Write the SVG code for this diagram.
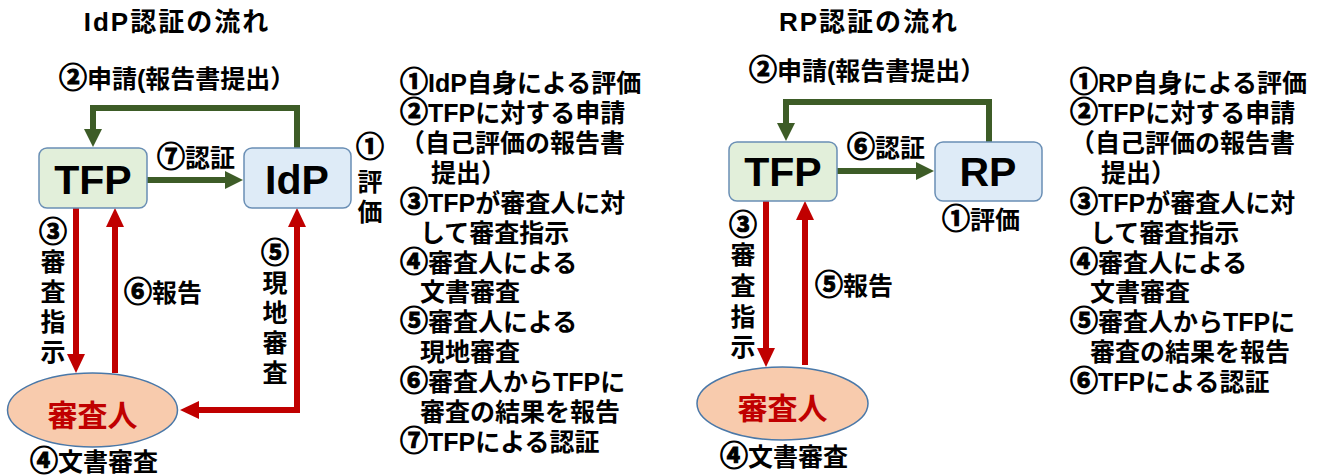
<svg xmlns="http://www.w3.org/2000/svg" width="1317" height="476" viewBox="0 0 1317 476">
<style>
text{font-family:"Liberation Sans","Noto Sans CJK JP",sans-serif;font-weight:bold;fill:#000;}
.t{font-size:26px;letter-spacing:2px;}
.l{font-size:25px;}
.s{font-size:25px;}
.v{font-size:25px;text-anchor:middle;}
.c{font-size:28px;stroke:#000;stroke-width:1.1px;}
.big{font-size:41px;text-anchor:middle;}
.rev{font-size:30px;fill:#c00000;text-anchor:middle;}
.tfp{fill:#e2efda;stroke:#6a8fb5;stroke-width:1.5;}
.idp{fill:#deebf7;stroke:#6a8fb5;stroke-width:1.5;}
.ell{fill:#f8cbad;stroke:#4a78a8;stroke-width:1.5;}
.g{fill:none;stroke:#3d5c27;stroke-width:6;}
.r{fill:none;stroke:#c00000;stroke-width:6;}
</style>
<defs>
<marker id="ag" markerUnits="userSpaceOnUse" viewBox="0 0 18 18" refX="0" refY="9" markerWidth="18" markerHeight="18" orient="auto-start-reverse"><path d="M0,0 L18,9 L0,18 Z" fill="#3d5c27"/></marker>
<marker id="ar" markerUnits="userSpaceOnUse" viewBox="0 0 19 18" refX="0" refY="9" markerWidth="19" markerHeight="18" orient="auto-start-reverse"><path d="M0,0 L19,9 L0,18 Z" fill="#c00000"/></marker>
</defs>

<!-- Left diagram -->
<text class="t" x="177" y="31" text-anchor="middle">IdP認証の流れ</text>
<text class="s" x="59" y="88"><tspan class="c">②</tspan>申請(報告書提出）</text>

<g id="connectors-left">
<path class="g" d="M297,148 V108 H93 V129" marker-end="url(#ag)"/>
<path class="g" d="M147,180 H225" marker-end="url(#ag)"/>
<path class="r" d="M76,208 V354" marker-end="url(#ar)"/>
<path class="r" d="M115,373 V227" marker-end="url(#ar)"/>
<path class="r" d="M199,410 H297 V227" marker-start="url(#ar)" marker-end="url(#ar)"/>
</g>

<g id="tfp-left">
<rect class="tfp" x="39" y="148" width="108" height="60" rx="8"/>
<text class="big" x="93" y="194">TFP</text>
</g>
<g id="idp">
<rect class="idp" x="244" y="148" width="107" height="60" rx="8"/>
<text class="big" x="297" y="194">IdP</text>
</g>
<g id="reviewer-left">
<ellipse class="ell" cx="92.5" cy="410" rx="85" ry="37"/>
<text class="rev" x="92.5" y="426">審査人</text>
</g>

<text class="l" x="157" y="167"><tspan class="c">⑦</tspan>認証</text>
<text class="v c" x="370" y="157">①</text>
<text class="v" x="370" y="191">評</text>
<text class="v" x="370" y="221">価</text>
<text class="l" x="30" y="471"><tspan class="c">④</tspan>文書審査</text>
<text class="v c" x="53" y="242">③</text>
<text class="v" x="53" y="271">審</text>
<text class="v" x="53" y="301">査</text>
<text class="v" x="53" y="331">指</text>
<text class="v" x="53" y="361">示</text>
<text class="l" x="124" y="302"><tspan class="c">⑥</tspan>報告</text>
<text class="v c" x="275" y="263">⑤</text>
<text class="v" x="275" y="292">現</text>
<text class="v" x="275" y="322">地</text>
<text class="v" x="275" y="352">審</text>
<text class="v" x="275" y="382">査</text>

<g id="list-left">
<text class="l" x="400" y="92"><tspan class="c">①</tspan>IdP自身による評価</text>
<text class="l" x="400" y="122"><tspan class="c">②</tspan>TFPに対する申請</text>
<text class="l" x="400" y="152">（自己評価の報告書</text>
<text class="l" x="431" y="182">提出）</text>
<text class="l" x="400" y="212"><tspan class="c">③</tspan>TFPが審査人に対</text>
<text class="l" x="420" y="242">して審査指示</text>
<text class="l" x="400" y="272"><tspan class="c">④</tspan>審査人による</text>
<text class="l" x="420" y="301">文書審査</text>
<text class="l" x="400" y="331"><tspan class="c">⑤</tspan>審査人による</text>
<text class="l" x="420" y="361">現地審査</text>
<text class="l" x="400" y="391"><tspan class="c">⑥</tspan>審査人からTFPに</text>
<text class="l" x="420" y="421">審査の結果を報告</text>
<text class="l" x="400" y="451"><tspan class="c">⑦</tspan>TFPによる認証</text>
</g>

<!-- Right diagram -->
<text class="t" x="869" y="31" text-anchor="middle">RP認証の流れ</text>
<text class="s" x="749" y="80"><tspan class="c">②</tspan>申請(報告書提出）</text>

<g id="connectors-right">
<path class="g" d="M989,142 V102 H786 V123" marker-end="url(#ag)"/>
<path class="g" d="M837,171 H916" marker-end="url(#ag)"/>
<path class="r" d="M766,201 V348" marker-end="url(#ar)"/>
<path class="r" d="M805,365 V220" marker-end="url(#ar)"/>
</g>

<g id="tfp-right">
<rect class="tfp" x="729" y="142" width="108" height="59" rx="8"/>
<text class="big" x="783" y="186">TFP</text>
</g>
<g id="rp">
<rect class="idp" x="935" y="142" width="107" height="59" rx="8"/>
<text class="big" x="988" y="186">RP</text>
</g>
<g id="reviewer-right">
<ellipse class="ell" cx="782.5" cy="403.5" rx="85.5" ry="36.5"/>
<text class="rev" x="782.5" y="419">審査人</text>
</g>

<text class="l" x="847" y="157"><tspan class="c">⑥</tspan>認証</text>
<text class="l" x="942" y="229"><tspan class="c">①</tspan>評価</text>
<text class="l" x="720" y="466"><tspan class="c">④</tspan>文書審査</text>
<text class="v c" x="743" y="235">③</text>
<text class="v" x="743" y="264">審</text>
<text class="v" x="743" y="295">査</text>
<text class="v" x="743" y="326">指</text>
<text class="v" x="743" y="356">示</text>
<text class="l" x="815" y="295"><tspan class="c">⑤</tspan>報告</text>

<g id="list-right">
<text class="l" x="1070" y="92"><tspan class="c">①</tspan>RP自身による評価</text>
<text class="l" x="1070" y="122"><tspan class="c">②</tspan>TFPに対する申請</text>
<text class="l" x="1070" y="152">（自己評価の報告書</text>
<text class="l" x="1101" y="182">提出）</text>
<text class="l" x="1070" y="212"><tspan class="c">③</tspan>TFPが審査人に対</text>
<text class="l" x="1090" y="242">して審査指示</text>
<text class="l" x="1070" y="272"><tspan class="c">④</tspan>審査人による</text>
<text class="l" x="1090" y="301">文書審査</text>
<text class="l" x="1070" y="331"><tspan class="c">⑤</tspan>審査人からTFPに</text>
<text class="l" x="1090" y="361">審査の結果を報告</text>
<text class="l" x="1070" y="391"><tspan class="c">⑥</tspan>TFPによる認証</text>
</g>
</svg>
